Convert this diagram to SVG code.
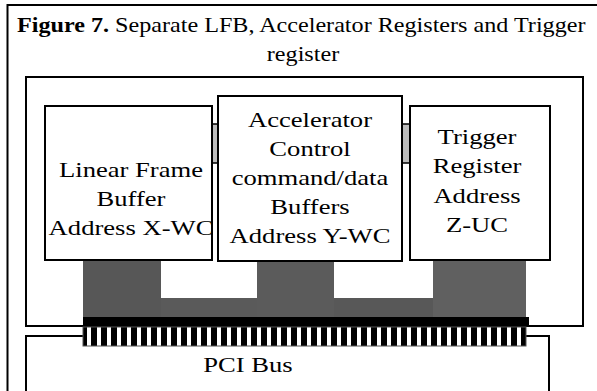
<svg xmlns="http://www.w3.org/2000/svg" width="597" height="391" viewBox="0 0 597 391">
  <style>
    .t { font-family: "Liberation Serif", "Times New Roman", serif; fill: #000; }
    .title { font-size: 21px; }
    .lbl { font-size: 22px; text-anchor: middle; }
    .box { fill: #fff; stroke: #000; stroke-width: 2; }
    .line { fill: none; stroke: #000; stroke-width: 2; }
    .link { fill: #bdbdbd; stroke: #000; stroke-width: 1.5; }
  </style>
  <defs>
    <!-- edge-connector pins: white fingers on a black strip -->
    <pattern id="pins" x="83" y="0" width="10" height="40" patternUnits="userSpaceOnUse">
      <rect x="0" y="0" width="10" height="40" fill="#000"/>
      <rect x="4" y="0" width="4" height="40" fill="#fff"/>
    </pattern>
  </defs>

  <rect width="597" height="391" fill="#fff"/>

  <!-- outer figure frame -->
  <path class="line" d="M7.5,400 V5 H600" stroke-width="2.5"/>

  <!-- caption -->
  <g id="caption" class="t title">
    <text transform="translate(17,31.5) scale(1.15,1)"><tspan font-weight="bold">Figure 7.</tspan> Separate LFB, Accelerator Registers and Trigger</text>
    <text transform="translate(303,61) scale(1.15,1)" text-anchor="middle">register</text>
  </g>

  <!-- graphics card board -->
  <g id="board">
    <path class="line" d="M83,326 H26 V77 H583 V326 H529"/>
  </g>

  <!-- PCI bus -->
  <g id="pci-bus">
    <path class="line" d="M26,400 V336 H83 M525,336 H549 V400"/>
    <text class="t lbl" transform="translate(248,371.5) scale(1.21,1)">PCI Bus</text>
  </g>

  <!-- connectors: memory paths down to the bus and side links -->
  <g id="connectors">
    <rect x="161" y="298" width="96" height="19" fill="#5a5a5a"/>
    <rect x="334" y="298" width="115" height="19" fill="#585858"/>
    <rect x="83" y="260" width="78" height="57" fill="#575757"/>
    <rect x="257" y="260" width="77" height="57" fill="#5b5b5b"/>
    <rect x="433" y="260" width="93" height="57" fill="#606060"/>
    <rect class="link" x="211" y="124" width="8" height="39"/>
    <rect class="link" x="401" y="124" width="10" height="39"/>
    <!-- card edge connector -->
    <rect x="83" y="317" width="446" height="10" fill="#000"/>
    <rect x="83" y="327" width="443" height="19" fill="url(#pins)" stroke="#555" stroke-width="1"/>
  </g>

  <g id="lfb">
    <rect class="box" x="45" y="106" width="167" height="154"/>
    <g class="t lbl">
      <text transform="translate(131,177) scale(1.21,1)">Linear Frame</text>
      <text transform="translate(131,206) scale(1.21,1)">Buffer</text>
      <text transform="translate(131,235) scale(1.21,1)">Address X-WC</text>
    </g>
  </g>

  <g id="accelerator">
    <rect class="box" x="218" y="96" width="184" height="165"/>
    <g class="t lbl">
      <text transform="translate(310,127) scale(1.21,1)">Accelerator</text>
      <text transform="translate(310,156) scale(1.21,1)">Control</text>
      <text transform="translate(310,185) scale(1.21,1)">command/data</text>
      <text transform="translate(310,214) scale(1.21,1)">Buffers</text>
      <text transform="translate(310,243) scale(1.21,1)">Address Y-WC</text>
    </g>
  </g>

  <g id="trigger">
    <rect class="box" x="410" y="106" width="140" height="154"/>
    <g class="t lbl">
      <text transform="translate(477,143.5) scale(1.21,1)">Trigger</text>
      <text transform="translate(477,173) scale(1.21,1)">Register</text>
      <text transform="translate(477,202.5) scale(1.21,1)">Address</text>
      <text transform="translate(477,232) scale(1.21,1)">Z-UC</text>
    </g>
  </g>
</svg>
